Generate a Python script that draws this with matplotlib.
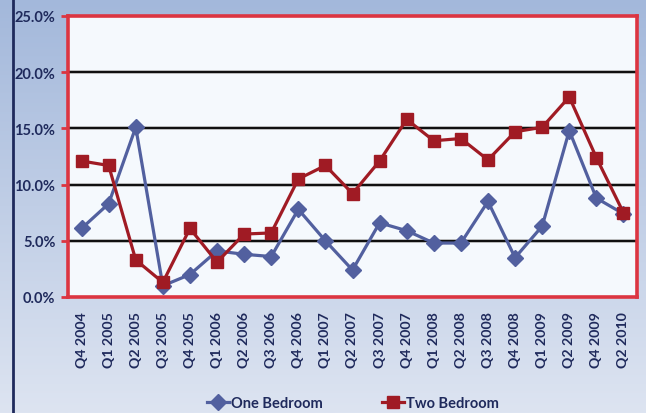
import matplotlib
matplotlib.use("Agg")
import matplotlib.pyplot as plt
import numpy as np
from matplotlib.ticker import FuncFormatter
from matplotlib.lines import Line2D

categories = ["Q4 2004", "Q1 2005", "Q2 2005", "Q3 2005", "Q4 2005", "Q1 2006",
              "Q2 2006", "Q3 2006", "Q4 2006", "Q1 2007", "Q2 2007", "Q3 2007",
              "Q4 2007", "Q1 2008", "Q2 2008", "Q3 2008", "Q4 2008", "Q1 2009",
              "Q2 2009", "Q4 2009", "Q2 2010"]
one_bedroom = [6.1, 8.3, 15.1, 1.0, 2.0, 4.1, 3.8, 3.6, 7.8, 5.0, 2.4, 6.6,
               5.9, 4.8, 4.8, 8.5, 3.5, 6.3, 14.8, 8.8, 7.4]
two_bedroom = [12.1, 11.7, 3.3, 1.3, 6.1, 3.1, 5.6, 5.7, 10.5, 11.7, 9.2, 12.1,
               15.8, 13.9, 14.1, 12.2, 14.7, 15.1, 17.8, 12.4, 7.5]
y_ticks = [0, 5, 10, 15, 20, 25]

plt.rcParams['font.family'] = ['Lato', 'DejaVu Sans']

W, H = 646, 414
fig = plt.figure(figsize=(W / 100, H / 100), dpi=100)

# gradient background
bg = fig.add_axes([0, 0, 1, 1], zorder=-10)
top = np.array([0xA3, 0xB8, 0xDB]) / 255
bot = np.array([0xDD, 0xE4, 0xF1]) / 255
t = np.linspace(0, 1, 256)[:, None]
grad = top[None, :] * (1 - t) + bot[None, :] * t
bg.imshow(grad[:, None, :], aspect='auto', extent=[0, 1, 0, 1], origin='upper')
bg.axvline(12.5 / W, color='#1F2A5C', lw=2)
bg.set_xlim(0, 1)
bg.set_ylim(0, 1)
bg.axis('off')

ax = fig.add_axes([68 / W, 1 - 298 / H, (637 - 68) / W, (298 - 17) / H])
ax.set_facecolor('#F5F9FD')
x = np.arange(len(categories))

text_col = '#1F2A5C'
blue = '#52609F'
red = '#A01B24'

for yv in y_ticks[1:-1]:
    ax.axhline(yv, color='#AAAAAA', lw=2.6, zorder=1)
    ax.axhline(yv, color='black', lw=1.3, zorder=1.1)

ax.plot(x, one_bedroom, color=blue, lw=2.3, marker='D', markersize=8.5,
        markerfacecolor=blue, markeredgecolor=blue, zorder=3, label='One Bedroom')
ax.plot(x, two_bedroom, color=red, lw=2.3, marker='s', markersize=9,
        markerfacecolor=red, markeredgecolor=red, zorder=4, label='Two Bedroom')

ax.set_xlim(-0.5, len(categories) - 0.5)
ax.set_ylim(0, 25)
ax.set_yticks(y_ticks)
ax.yaxis.set_major_formatter(FuncFormatter(lambda v, p: f"{v:.1f}%"))
ax.set_xticks(x)
ax.set_xticklabels(categories, rotation=90)

for s in ax.spines.values():
    s.set_color('#DC3541')
    s.set_linewidth(2.6)

ax.tick_params(axis='y', length=5, width=2, color='#DC3541', pad=4,
               labelsize=10.5, labelcolor=text_col)
ax.tick_params(axis='x', length=0, pad=10, labelsize=10.2, labelcolor=text_col)
for lbl in ax.get_yticklabels() + ax.get_xticklabels():
    lbl.set_fontweight('bold')

handles = [Line2D([0], [0], color=blue, lw=2.3, marker='D', markersize=8.5),
           Line2D([0], [0], color=red, lw=2.3, marker='s', markersize=9)]
fig.legend(handles, ['One Bedroom', 'Two Bedroom'], loc='center',
           bbox_to_anchor=(353 / W, 1 - 404 / H), ncol=2, frameon=False,
           handlelength=1.5, handletextpad=0.1, columnspacing=4.1,
           prop={'weight': 'bold', 'size': 10.5}, labelcolor=text_col)

fig.savefig('out.png', dpi=100)
